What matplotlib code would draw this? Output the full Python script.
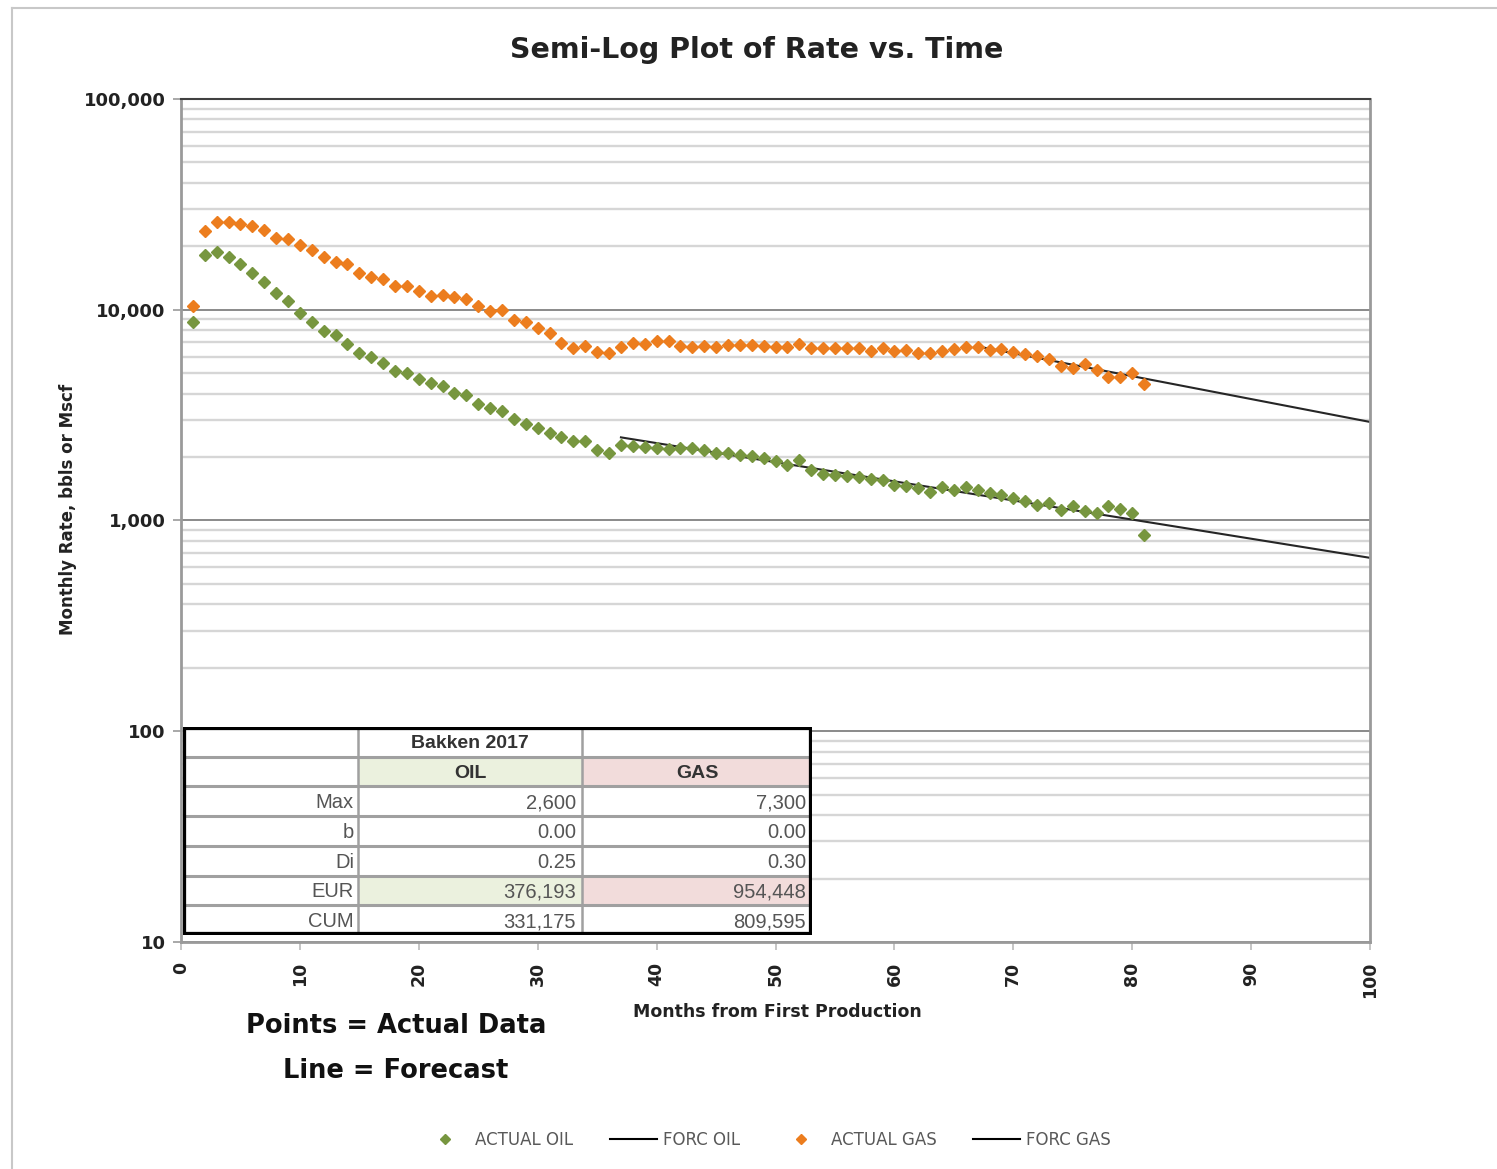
import matplotlib
matplotlib.use('Agg')
import matplotlib.pyplot as plt
from matplotlib.lines import Line2D
from matplotlib.patches import Rectangle
from matplotlib.ticker import FixedLocator, LogLocator, NullFormatter, FuncFormatter

# ---------------- data ----------------
months = list(range(1, 82))
actual_oil = [8780, 18190, 18850, 17740, 16440, 15000, 13600, 11980, 11010, 9690,
              8780, 7930, 7590, 6880, 6250, 5990, 5570, 5140, 5030, 4680,
              4510, 4350, 4040, 3940, 3570, 3410, 3320, 3020, 2870, 2740,
              2590, 2480, 2390, 2390, 2160, 2100, 2280, 2255, 2238, 2200,
              2178, 2200, 2200, 2160, 2098, 2085, 2047, 2024, 1973, 1923,
              1834, 1937, 1737, 1662, 1644, 1627, 1603, 1569, 1560, 1472,
              1458, 1423, 1372, 1446, 1396, 1446, 1396, 1346, 1321, 1274,
              1242, 1185, 1214, 1122, 1172, 1114, 1090, 1172, 1131, 1081,
              853]
actual_gas = [10420, 23650, 26170, 26170, 25530, 24960, 23900, 21970, 21580, 20280,
              19220, 17750, 16920, 16490, 15000, 14360, 13960, 12980, 13010, 12310,
              11660, 11750, 11460, 11210, 10420, 9870, 9980, 8940, 8780, 8170,
              7730, 6980, 6560, 6720, 6320, 6210, 6630, 6930, 6880, 7120,
              7120, 6730, 6680, 6730, 6630, 6810, 6810, 6810, 6730, 6630,
              6680, 6880, 6560, 6560, 6560, 6560, 6560, 6390, 6560, 6390,
              6440, 6250, 6250, 6390, 6490, 6630, 6630, 6440, 6490, 6320,
              6170, 6040, 5820, 5410, 5280, 5530, 5180, 4810, 4810, 4990,
              4440]
forc_oil_months = [37, 100]
forc_oil = [2480, 665]
forc_gas_months = [67, 100]
forc_gas = [6700, 2935]

x_ticks = [0, 10, 20, 30, 40, 50, 60, 70, 80, 90, 100]
y_ticks = [10, 100, 1000, 10000, 100000]

table_title = 'Bakken 2017'
table_cols = ['OIL', 'GAS']
table_rows = ['Max', 'b', 'Di', 'EUR', 'CUM']
oil_params = ['2,600', '0.00', '0.25', '376,193', '331,175']
gas_params = ['7,300', '0.00', '0.30', '954,448', '809,595']

legend_labels = ['ACTUAL OIL', 'FORC OIL', 'ACTUAL GAS', 'FORC GAS']

# ---------------- style ----------------
GREEN = '#77963f'
ORANGE = '#ec7d1e'
plt.rcParams['font.family'] = ['DejaVu Sans']

fig = plt.figure(figsize=(14.97, 11.69), dpi=100)
fig.patch.set_facecolor('white')

# outer chart border (left and top)
fig.add_artist(Line2D([0.008, 0.008], [0.0, 0.9932], color='#c8c8c8', lw=1.5))
fig.add_artist(Line2D([0.008, 1.0], [0.9932, 0.9932], color='#c8c8c8', lw=1.5))

ax = fig.add_axes([0.1209, 0.1942, 0.7943, 0.7211])
ax.set_yscale('log')
ax.set_xlim(0, 100)
ax.set_ylim(10, 100000)

ax.yaxis.set_major_locator(FixedLocator(y_ticks))
ax.yaxis.set_minor_locator(LogLocator(base=10, subs=[2, 3, 4, 5, 6, 7, 8, 9]))
ax.yaxis.set_minor_formatter(NullFormatter())
ax.yaxis.set_major_formatter(FuncFormatter(lambda v, p: f'{int(round(v)):,}'))
ax.set_xticks(x_ticks)

ax.grid(axis='y', which='minor', color='#d6d6d6', lw=1.7, zorder=0)
ax.grid(axis='y', which='major', color='#8a8a8a', lw=1.4, zorder=0)
ax.set_axisbelow(True)

ax.tick_params(axis='y', which='minor', length=0)
ax.tick_params(axis='y', which='major', length=6, width=1.2, color='#999999',
               labelsize=13, pad=5)
ax.tick_params(axis='x', which='major', length=6, width=1.2, color='#bbbbbb',
               labelsize=12.5, pad=8, labelrotation=90)
for lab in ax.get_xticklabels() + ax.get_yticklabels():
    lab.set_fontweight('bold')
    lab.set_color('#222222')

for side in ['left', 'bottom', 'right']:
    ax.spines[side].set_color('#9a9a9a')
    ax.spines[side].set_linewidth(2)
ax.spines['top'].set_color('#404040')
ax.spines['top'].set_linewidth(1.5)

ax.plot(forc_oil_months, forc_oil, color='#262626', lw=1.5, zorder=2)
ax.plot(forc_gas_months, forc_gas, color='#262626', lw=1.5, zorder=2)
ax.plot(months, actual_oil, linestyle='none', marker='D', ms=6.5, color=GREEN,
        mec=GREEN, zorder=3)
ax.plot(months, actual_gas, linestyle='none', marker='D', ms=6.5, color=ORANGE,
        mec=ORANGE, zorder=3)

# titles / labels
fig.text(0.5057, 0.957, 'Semi-Log Plot of Rate vs. Time', ha='center', va='center',
         fontsize=20.5, fontweight='bold', color='#222222')
fig.text(0.0454, 0.5646, 'Monthly Rate, bbls or Mscf', rotation=90, ha='center',
         va='center', fontsize=12, fontweight='bold', color='#222222')
fig.text(0.519, 0.1343, 'Months from First Production', ha='center', va='center',
         fontsize=12.5, fontweight='bold', color='#222222')
fig.text(0.2645, 0.1222, 'Points = Actual Data', ha='center', va='center',
         fontsize=18.5, fontweight='bold', color='#111111')
fig.text(0.2645, 0.0838, 'Line = Forecast', ha='center', va='center',
         fontsize=18.5, fontweight='bold', color='#111111')

# ---------------- table ----------------
tax = fig.add_axes([0.1222, 0.2002, 0.4202, 0.1779], zorder=5)
tax.set_xlim(0, 629)
tax.set_ylim(7, 0)
tax.axis('off')
c = [0, 175, 399, 629]
tax.add_patch(Rectangle((0, 0), 629, 7, facecolor='white', edgecolor='none', zorder=0))
fill_oil = '#ebf1de'
fill_gas = '#f2dcdb'
for r in (1, 5):
    tax.add_patch(Rectangle((c[1], r), c[2] - c[1], 1, facecolor=fill_oil,
                            edgecolor='none', zorder=1))
    tax.add_patch(Rectangle((c[2], r), c[3] - c[2], 1, facecolor=fill_gas,
                            edgecolor='none', zorder=1))
for r in range(1, 7):
    tax.plot([0, 629], [r, r], color='#a0a0a0', lw=2.2, zorder=2)
for cx in (c[1], c[2]):
    tax.plot([cx, cx], [0, 7], color='#a0a0a0', lw=1.8, zorder=2)
tax.add_patch(Rectangle((0, 0), 629, 7, facecolor='none', edgecolor='black', lw=4.5,
                        zorder=3))

TFONT = ['Liberation Sans', 'DejaVu Sans']
tax.text((c[1] + c[2]) / 2, 0.55, table_title, ha='center', va='center', fontsize=14,
         fontweight='bold', color='#333333', family=TFONT)
for j, name in enumerate(table_cols):
    tax.text((c[j + 1] + c[j + 2]) / 2, 1.55, name, ha='center', va='center',
             fontsize=14, fontweight='bold', color='#333333', family=TFONT)
for i, name in enumerate(table_rows):
    y = 2.55 + i
    tax.text(c[1] - 4, y, name, ha='right', va='center', fontsize=14.5,
             color='#555555', family=TFONT)
    tax.text(c[2] - 6, y, oil_params[i], ha='right', va='center', fontsize=14.5,
             color='#555555', family=TFONT)
    tax.text(c[3] - 6, y, gas_params[i], ha='right', va='center', fontsize=14.5,
             color='#555555', family=TFONT)

# ---------------- legend ----------------
handles = [Line2D([], [], linestyle='none', marker='D', ms=5, color=GREEN),
           Line2D([], [], color='black', lw=1.5),
           Line2D([], [], linestyle='none', marker='D', ms=5, color=ORANGE),
           Line2D([], [], color='black', lw=1.5)]
leg = fig.legend(handles, legend_labels, loc='center', bbox_to_anchor=(0.512, 0.025),
                 ncol=4, frameon=False, fontsize=12, handlelength=2.8,
                 handletextpad=0.4, columnspacing=2.2)
for t in leg.get_texts():
    t.set_color('#595959')

fig.savefig('out.png', dpi=100, facecolor='white')
